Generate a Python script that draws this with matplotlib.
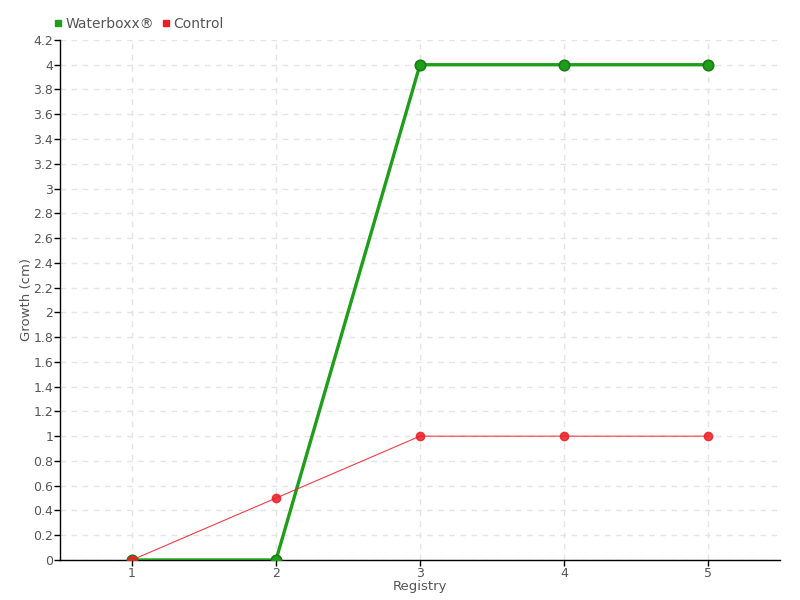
import matplotlib
matplotlib.use("Agg")
import matplotlib.pyplot as plt
from matplotlib.lines import Line2D

# data
registry = [1, 2, 3, 4, 5]
waterboxx = [0, 0, 4, 4, 4]
control = [0, 0.5, 1, 1, 1]
y_ticks = [round(0.2 * i, 1) for i in range(22)]

GREEN = "#1f9e1a"
GREEN_EDGE = "#187d14"
RED = "#ee1c25"
TEXT = "#555555"

plt.rcParams["font.family"] = ["DejaVu Sans"]

fig = plt.figure(figsize=(8, 6), dpi=100)
ax = fig.add_axes([0.075, 0.0667, 0.9, 0.8667])

ax.plot(registry, waterboxx, color=GREEN, lw=2.4, marker="o", ms=7.5,
        mfc=GREEN, mec=GREEN_EDGE, mew=1.2, zorder=3)
ax.plot(registry, control, color=RED, lw=0.8, alpha=0.85, marker="o", ms=6,
        mfc=RED, mec=RED, zorder=4)

ax.set_xlim(0.5, 5.5)
ax.set_ylim(0, 4.2)
ax.set_xticks(registry)
ax.set_yticks(y_ticks)
ax.set_yticklabels([f"{v:g}" for v in y_ticks])

ax.grid(True, color="#e4e4e4", linestyle=(0, (4, 4)), lw=1)
ax.set_axisbelow(True)
for s in ("top", "right"):
    ax.spines[s].set_visible(False)
ax.spines["left"].set_linewidth(1)
ax.spines["bottom"].set_linewidth(1)
ax.tick_params(axis="both", length=4, width=1, labelsize=9, labelcolor=TEXT,
               pad=1)

ax.set_xlabel("Registry", fontsize=9.5, color=TEXT, labelpad=0)
ax.set_ylabel("Growth (cm)", fontsize=9.5, color=TEXT, labelpad=0)

handles = [
    Line2D([], [], ls="", marker="s", ms=5, color=GREEN, label="Waterboxx®"),
    Line2D([], [], ls="", marker="s", ms=5, color=RED, label="Control"),
]
leg = fig.legend(handles=handles, loc="upper left", bbox_to_anchor=(0.052, 0.993),
                 ncol=2, frameon=False, fontsize=10, handlelength=0.6,
                 handletextpad=0.2, columnspacing=0.6)
for t in leg.get_texts():
    t.set_color(TEXT)

fig.savefig("out.png", dpi=100)
